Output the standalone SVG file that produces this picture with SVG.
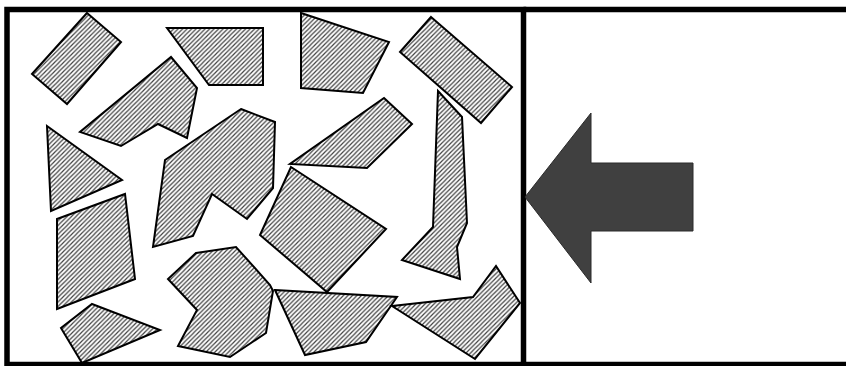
<svg xmlns="http://www.w3.org/2000/svg" width="846" height="366" viewBox="0 0 846 366">
<defs>
<pattern id="hatch" patternUnits="userSpaceOnUse" width="4.5" height="4.5">
<rect width="4.5" height="4.5" fill="#fff"/>
<path d="M-1,1 L1,-1 M0,4.5 L4.5,0 M3.5,5.5 L5.5,3.5" stroke="#404040" stroke-width="1.2"/>
</pattern>
</defs>
<style>
.p{fill:url(#hatch);stroke:#000;stroke-width:2;stroke-linejoin:miter}
.frame{fill:none;stroke:#000;stroke-width:5.5}
</style>
<rect width="846" height="366" fill="#fff"/>
<g id="pieces">
<polygon id="pA" class="p" points="87,13 121,42 67,104 32,74"/>
<polygon id="pB" class="p" points="167,28 263,28 263,85 209,85"/>
<polygon id="pC" class="p" points="171,57 197,88 187,138 158,124 121,146 80,132"/>
<polygon id="pD" class="p" points="47,126 122,180 51,211"/>
<polygon id="pE" class="p" points="241,109 275,122 273,188 247,219 212,194 193,236 153,247 165,160"/>
<polygon id="pF" class="p" points="57,219 125,194 135,279 57,309"/>
<polygon id="pG" class="p" points="92,304 160,330 82,363 61,328"/>
<polygon id="pH" class="p" points="196,253 236,247 270,285 273,291 266,333 230,357 178,346 197,310 168,279"/>
<polygon id="pI" class="p" points="301,13 389,42 363,93 301,88"/>
<polygon id="pJ" class="p" points="431,17 512,87 481,123 400,52"/>
<polygon id="pK" class="p" points="384,98 412,124 367,168 290,164"/>
<polygon id="pL" class="p" points="438,91 462,117 467,223 457,247 460,279 402,260 433,227"/>
<polygon id="pM" class="p" points="291,167 386,229 327,292 260,235"/>
<polygon id="pN" class="p" points="275,290 397,297 366,342 305,355"/>
<polygon id="pO" class="p" points="392,306 473,297 496,266 520,303 475,359"/>
</g>
<g id="frame">
<rect class="frame" x="7" y="9.5" width="516.5" height="355"/>
<polyline class="frame" points="523.5,9.5 850,9.5"/>
<polyline class="frame" points="523.5,364.5 850,364.5"/>
</g>
<g id="arrow">
<polygon points="525,197 591,113 591,163 693,163 693,231 591,231 591,283" fill="#404040" stroke="#2a2a2a" stroke-width="1"/>
</g>
</svg>
